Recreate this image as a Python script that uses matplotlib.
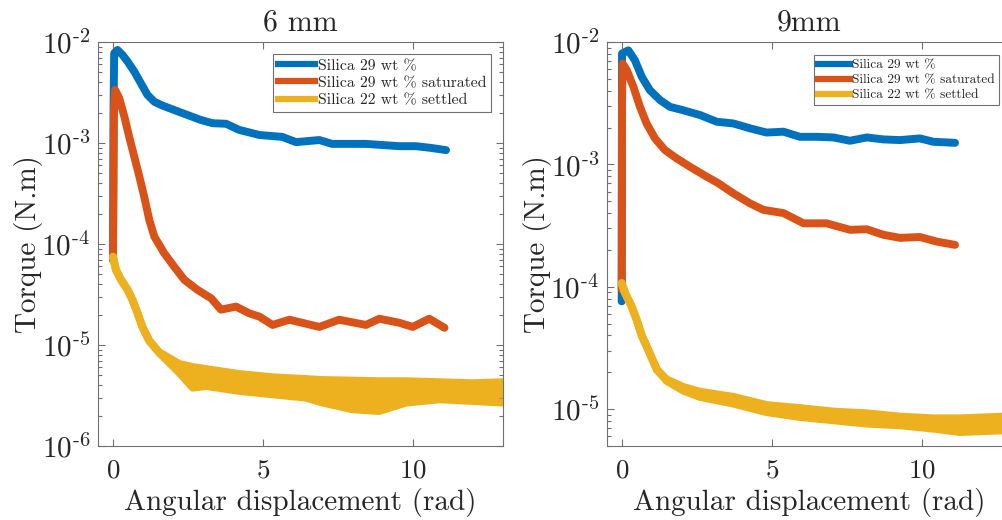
import numpy as np
import matplotlib
matplotlib.use("Agg")
import matplotlib.pyplot as plt
from matplotlib.lines import Line2D
from matplotlib.ticker import LogLocator, FixedLocator, NullFormatter, FuncFormatter

# ---------------- data ----------------
# 6 mm panel
l_blue_x = [0, 0.02, 0.04, 0.15, 0.32, 0.49, 0.71, 0.93, 1.15, 1.38, 1.6, 2.04, 2.49, 2.93,
            3.32, 3.77, 4.2, 4.88, 5.64, 6.1, 6.88, 7.3, 8.43, 9.54, 10.1, 10.65, 11.1]
l_blue_y = [7.08e-5, 2.51e-3, 7.73e-3, 8.34e-3, 7.43e-3, 6.38e-3, 5.09e-3, 3.90e-3, 2.99e-3,
            2.56e-3, 2.38e-3, 2.12e-3, 1.89e-3, 1.69e-3, 1.57e-3, 1.55e-3, 1.35e-3, 1.20e-3,
            1.15e-3, 1.02e-3, 1.07e-3, 9.8e-4, 9.8e-4, 9.3e-4, 9.3e-4, 8.9e-4, 8.5e-4]

l_red_x = [0, 0.03, 0.07, 0.21, 0.38, 0.54, 0.71, 0.88, 1.04, 1.21, 1.38, 1.71, 2.04, 2.38,
           2.82, 3.27, 3.6, 4.1, 4.54, 4.88, 5.32, 5.88, 6.88, 7.54, 7.88, 8.43, 8.88, 9.54,
           9.99, 10.54, 11.05]
l_red_y = [6.9e-5, 2.0e-3, 3.35e-3, 2.77e-3, 1.82e-3, 1.15e-3, 7.31e-4, 4.63e-4, 2.94e-4,
           1.73e-4, 1.18e-4, 8.09e-5, 5.96e-5, 4.41e-5, 3.51e-5, 2.90e-5, 2.24e-5, 2.40e-5,
           2.06e-5, 1.91e-5, 1.58e-5, 1.78e-5, 1.51e-5, 1.78e-5, 1.70e-5, 1.58e-5, 1.82e-5,
           1.66e-5, 1.51e-5, 1.82e-5, 1.48e-5]

l_yel_x = [0, 0.1, 0.27, 0.49, 0.65, 0.82, 0.98, 1.21, 1.54, 2.21, 2.66, 3.1, 4.21, 5.32,
           6.43, 6.99, 7.99, 8.87, 9.77, 10.88, 11.99, 13.0]
l_yel_hi = [7.48e-5, 5.53e-5, 4.41e-5, 3.51e-5, 2.79e-5, 2.06e-5, 1.51e-5, 1.10e-5, 8.47e-6,
            6.49e-6, 6.05e-6, 5.78e-6, 5.16e-6, 4.79e-6, 4.60e-6, 4.50e-6, 4.44e-6, 4.38e-6,
            4.38e-6, 4.28e-6, 4.18e-6, 4.28e-6]
l_yel_lo = [7.48e-5, 5.53e-5, 4.41e-5, 3.51e-5, 2.79e-5, 2.06e-5, 1.51e-5, 1.10e-5, 8.39e-6,
            5.32e-6, 3.78e-6, 3.93e-6, 3.51e-6, 3.25e-6, 3.01e-6, 2.69e-6, 2.31e-6, 2.22e-6,
            2.69e-6, 2.90e-6, 2.79e-6, 2.69e-6]

# 9 mm panel
r_blue_x = [0, 0.01, 0.22, 0.44, 0.67, 0.94, 1.28, 1.61, 2.05, 2.61, 3.17, 3.72, 4.28, 4.83,
            5.39, 5.94, 6.5, 7.06, 7.61, 8.17, 8.72, 9.28, 9.94, 10.39, 11.11]
r_blue_y = [7.6e-5, 8.04e-3, 8.55e-3, 7.10e-3, 5.19e-3, 4.04e-3, 3.35e-3, 2.95e-3, 2.77e-3,
            2.53e-3, 2.23e-3, 2.16e-3, 1.97e-3, 1.82e-3, 1.85e-3, 1.68e-3, 1.68e-3, 1.66e-3,
            1.56e-3, 1.66e-3, 1.60e-3, 1.58e-3, 1.63e-3, 1.53e-3, 1.50e-3]

r_red_x = [0, 0.01, 0.03, 0.17, 0.39, 0.61, 0.83, 1.11, 1.44, 1.83, 2.28, 2.83, 3.22, 3.72,
           4.28, 4.72, 5.39, 6.06, 6.83, 7.61, 8.17, 8.72, 9.28, 9.94, 10.5, 11.11]
r_red_y = [9.5e-5, 3.16e-3, 6.67e-3, 5.89e-3, 4.30e-3, 2.95e-3, 2.16e-3, 1.63e-3, 1.31e-3,
           1.12e-3, 9.55e-4, 7.94e-4, 7.02e-4, 5.8e-4, 4.8e-4, 4.25e-4, 4.0e-4, 3.3e-4,
           3.3e-4, 2.92e-4, 2.95e-4, 2.66e-4, 2.51e-4, 2.55e-4, 2.34e-4, 2.2e-4]

r_yel_x = [0, 0.11, 0.33, 0.5, 0.67, 0.83, 1.17, 1.5, 2.05, 2.6, 3.72, 4.83, 5.94, 7.06,
           8.17, 9.28, 10.39, 11.28, 12.72, 13.0]
r_yel_hi = [1.07e-4, 8.91e-5, 6.92e-5, 5.37e-5, 3.98e-5, 3.27e-5, 2.11e-5, 1.75e-5, 1.52e-5,
            1.39e-5, 1.26e-5, 1.08e-5, 1.02e-5, 9.55e-6, 9.25e-6, 8.69e-6, 8.41e-6, 8.41e-6,
            8.69e-6, 8.69e-6]
r_yel_lo = [1.07e-4, 8.91e-5, 6.92e-5, 5.37e-5, 3.98e-5, 3.27e-5, 2.11e-5, 1.70e-5, 1.42e-5,
            1.26e-5, 1.11e-5, 9.46e-6, 8.63e-6, 8.11e-6, 7.62e-6, 7.38e-6, 6.93e-6, 6.50e-6,
            6.71e-6, 6.71e-6]

labels = ["Silica 29 wt %", "Silica 29 wt % saturated", "Silica 22 wt % settled"]
titles = ["6 mm", "9mm"]
x_ticks = [0, 5, 10]
colors = ["#0072BD", "#D95319", "#EDB120"]

# ---------------- style ----------------
plt.rcParams["font.family"] = ["cmr10", "DejaVu Serif"]
plt.rcParams["mathtext.fontset"] = "cm"
plt.rcParams["axes.unicode_minus"] = False
plt.rcParams["axes.formatter.use_mathtext"] = True

W, H = 1003, 520
fig = plt.figure(figsize=(W / 100, H / 100), dpi=100)

axcol = "#707070"
txtcol = "#262626"
LW = 5.7


def log_fmt(v, pos):
    e = int(round(np.log10(v)))
    if e < 0:
        return r"$\mathregular{10^{\text{-}%d}}$" % (-e)
    return r"$\mathregular{10^{%d}}$" % e


def setup(ax, ylim, title):
    ax.set_yscale("log")
    ax.set_xlim(-0.5, 13)
    ax.set_ylim(*ylim)
    ax.xaxis.set_major_locator(FixedLocator(x_ticks))
    ax.yaxis.set_major_locator(LogLocator(base=10, numticks=10))
    ax.yaxis.set_major_formatter(FuncFormatter(log_fmt))
    ax.yaxis.set_minor_locator(LogLocator(base=10, subs=np.arange(2, 10), numticks=10))
    ax.yaxis.set_minor_formatter(NullFormatter())
    ax.tick_params(which="both", direction="in", top=True, right=True, colors=axcol,
                   labelcolor=txtcol, width=0.8)
    ax.tick_params(which="major", length=5)
    ax.tick_params(which="minor", length=3)
    ax.tick_params(axis="x", pad=9, labelsize=19.5)
    ax.tick_params(axis="y", pad=5.5, labelsize=21)
    for s in ax.spines.values():
        s.set_color(axcol)
        s.set_linewidth(0.8)
    ax.set_title(title, fontsize=21.5, pad=8, color=txtcol)
    ax.set_xlabel("Angular displacement (rad)", fontsize=21, color=txtcol, labelpad=4)
    ax.set_ylabel("Torque (N.m)", fontsize=21, color=txtcol, labelpad=-1)


def draw(ax, bx, by, rx, ry, yx, yhi, ylo):
    kw = dict(lw=LW, solid_capstyle="round", solid_joinstyle="round")
    ax.plot(bx, by, color=colors[0], **kw)
    ax.plot(rx, ry, color=colors[1], **kw)
    ax.fill_between(yx, ylo, yhi, color=colors[2], lw=0)
    ax.plot(yx, yhi, color=colors[2], **kw)
    ax.plot(yx, ylo, color=colors[2], **kw)


def legend(ax, fs, loc_box):
    handles = [Line2D([], [], color=c, lw=4.5) for c in colors]
    leg = ax.legend(handles, labels, loc="upper right", bbox_to_anchor=loc_box,
                    fontsize=fs, frameon=True, fancybox=False, framealpha=1,
                    edgecolor="#707070", handlelength=2.4, handletextpad=0.15,
                    labelspacing=0.2, borderpad=0.3, borderaxespad=0)
    leg.get_frame().set_linewidth(0.8)
    for t in leg.get_texts():
        t.set_color(txtcol)


ax1 = fig.add_axes([98 / W, 1 - 446 / H, 405 / W, 404 / H])
draw(ax1, l_blue_x, l_blue_y, l_red_x, l_red_y, l_yel_x, l_yel_hi, l_yel_lo)
setup(ax1, (1e-6, 1e-2), titles[0])
legend(ax1, 11.3, (0.970, 0.970))

ax2 = fig.add_axes([606.7 / W, 1 - 446 / H, 405 / W, 404 / H])
draw(ax2, r_blue_x, r_blue_y, r_red_x, r_red_y, r_yel_x, r_yel_hi, r_yel_lo)
setup(ax2, (5e-6, 1e-2), titles[1])
legend(ax2, 9.6, (0.969, 0.968))

fig.savefig("out.png", dpi=100)
